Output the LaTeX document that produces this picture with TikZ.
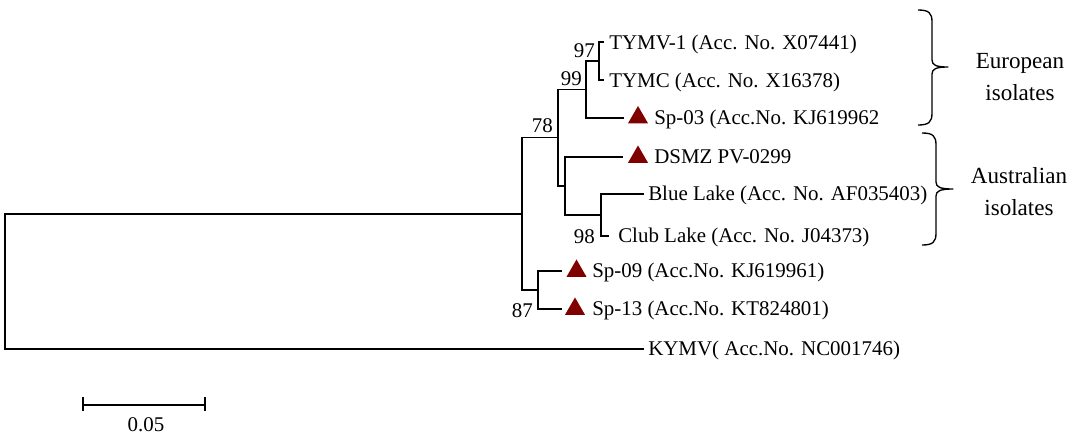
\documentclass[tikz,border=0pt]{standalone}
\usepackage{fontspec}
\setmainfont{Liberation Serif}
\usetikzlibrary{shapes.geometric}
\definecolor{tricol}{RGB}{128,0,0}
\begin{document}
\begin{tikzpicture}[x=0.75pt,y=-0.75pt,
  branch/.style={line width=0.9pt,line cap=rect},
  leaf/.style={anchor=base west,inner sep=0pt,font=\fontsize{15.7}{18}\selectfont},
  boot/.style={anchor=base east,inner sep=0pt,font=\fontsize{15.7}{18}\selectfont},
  grp/.style={anchor=base,inner sep=0pt,font=\fontsize{17.3}{20}\selectfont},
  scl/.style={anchor=base,inner sep=0pt,font=\fontsize{15.7}{18}\selectfont},
  tri/.style={regular polygon,regular polygon sides=3,fill=tricol,draw=none,inner sep=0pt,minimum size=17.3pt},
  bracestyle/.style={line width=1pt,line join=round}]
\useasboundingbox (0,0) rectangle (1072,437);
% internal nodes
\coordinate (r) at (5,281.5);
\coordinate (n1) at (522,214);
\coordinate (n78) at (558,137.5);
\coordinate (n99) at (586,89.5);
\coordinate (n97) at (599,61);
\coordinate (nA) at (565,186);
\coordinate (n98) at (601,215);
\coordinate (n87) at (538,290);
% leaf ends
\coordinate (l1) at (603,42);
\coordinate (l2) at (603,80);
\coordinate (l3) at (623,118);
\coordinate (l4) at (622,157);
\coordinate (l5) at (643,194);
\coordinate (l6) at (608,236);
\coordinate (l7) at (561,271);
\coordinate (l8) at (561,309);
\coordinate (l9) at (643,349);
% branches
\draw[branch] (r) |- (n1);
\draw[branch] (r) |- (l9);
\draw[branch] (n1) |- (n78);
\draw[branch] (n1) |- (n87);
\draw[branch] (n78) |- (n99);
\draw[branch] (n78) |- (nA);
\draw[branch] (n99) |- (n97);
\draw[branch] (n99) |- (l3);
\draw[branch] (n97) |- (l1);
\draw[branch] (n97) |- (l2);
\draw[branch] (nA) |- (l4);
\draw[branch] (nA) |- (n98);
\draw[branch] (n98) |- (l5);
\draw[branch] (n98) |- (l6);
\draw[branch] (n87) |- (l7);
\draw[branch] (n87) |- (l8);
% triangles
\node[tri] (t3) at (638,117.5) {};
\node[tri] (t4) at (638,157) {};
\node[tri] (t7) at (576.5,271) {};
\node[tri] (t8) at (575,309) {};
% leaf labels
\node[leaf] (L1) at (609,49) {TYMV-1 (Acc. No. X07441)};
\node[leaf] (L2) at (609,87) {TYMC (Acc. No. X16378)};
\node[leaf] (L3) at (654,124.5) {Sp-03 (Acc.No. KJ619962};
\node[leaf] (L4) at (654,163.5) {DSMZ PV-0299};
\node[leaf] (L5) at (648,200.5) {Blue Lake (Acc. No. AF035403)};
\node[leaf] (L6) at (618,242.5) {Club Lake (Acc. No. J04373)};
\node[leaf] (L7) at (592,277.5) {Sp-09 (Acc.No. KJ619961)};
\node[leaf] (L8) at (592,315.5) {Sp-13 (Acc.No. KT824801)};
\node[leaf] (L9) at (648,355.5) {KYMV( Acc.No. NC001746)};
% bootstrap values
\node[boot] (b97) at (595,57) {97};
\node[boot] (b99) at (582,85) {99};
\node[boot] (b78) at (553,132) {78};
\node[boot] (b98) at (595,243) {98};
\node[boot] (b87) at (533,317) {87};
% braces
\coordinate (e1) at (918,10);
\coordinate (e2) at (918,125);
\coordinate (et) at (948,67);
\coordinate (a1) at (922,133);
\coordinate (a2) at (922,245);
\coordinate (at) at (953,189);
\draw[bracestyle] (e1) .. controls (929,10) and (932,13) .. (932,22)
  -- (932,60) .. controls (932,65) and (936,67) .. (et)
  .. controls (936,67) and (932,69) .. (932,74)
  -- (932,113) .. controls (932,122) and (929,125) .. (e2);
\draw[bracestyle] (a1) .. controls (933,133) and (936,136) .. (936,145)
  -- (936,182) .. controls (936,187) and (940,189) .. (at)
  .. controls (940,189) and (936,191) .. (936,196)
  -- (936,233) .. controls (936,242) and (933,245) .. (a2);
\node[grp] (g1) at (1020,68) {European};
\node[grp] (g2) at (1020,100) {isolates};
\node[grp] (g3) at (1019,183) {Australian};
\node[grp] (g4) at (1019,215) {isolates};
% scale bar
\coordinate (s1) at (83,405);
\coordinate (s2) at (205,405);
\draw[branch,line cap=butt] (s1) -- (s2);
\draw[branch,line cap=butt] ([yshift=8*0.75pt]s1) -- ([yshift=-6*0.75pt]s1);
\draw[branch,line cap=butt] ([yshift=8*0.75pt]s2) -- ([yshift=-6*0.75pt]s2);
\node[scl] (sl) at (146,431) {0.05};
\end{tikzpicture}
\end{document}
